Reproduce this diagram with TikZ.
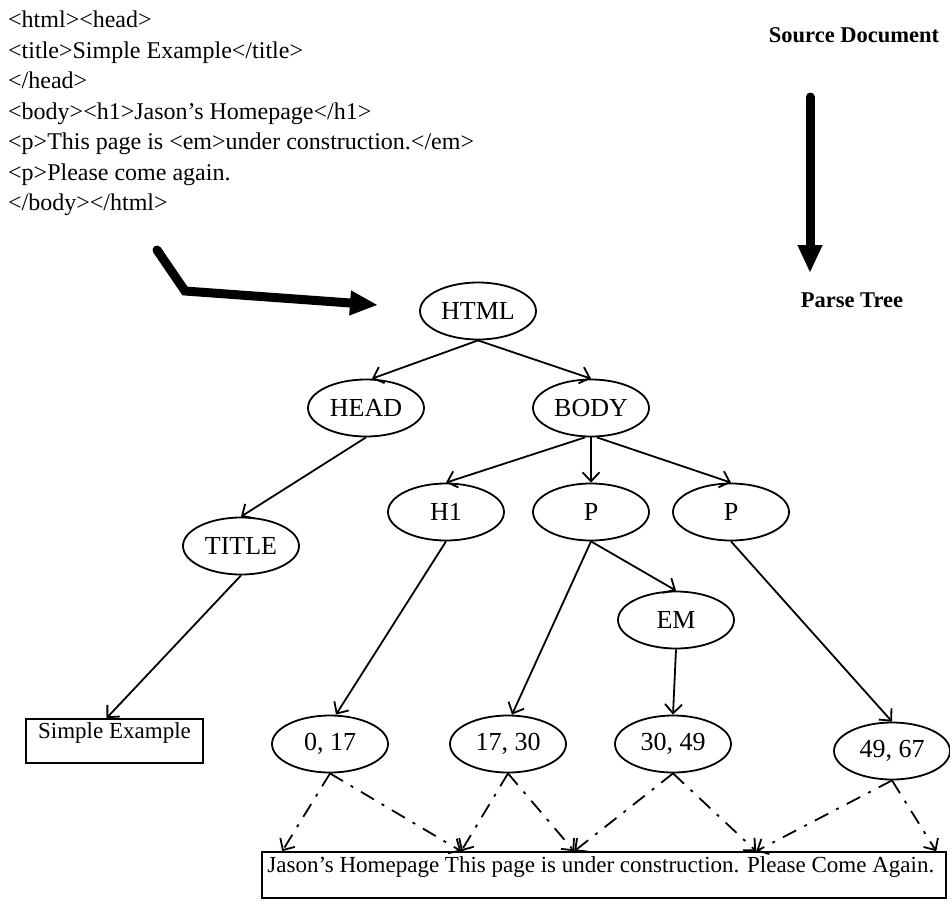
\documentclass[tikz,border=0pt]{standalone}
\usepackage{fontspec}
\setmainfont{Liberation Serif}
\usetikzlibrary{arrows.meta,shapes.geometric,calc}
\begin{document}
\begin{tikzpicture}[x=1pt,y=-1pt,
  nd/.style={ellipse,draw,line width=1.8pt,minimum width=116pt,minimum height=57pt,inner sep=0pt,font=\fontsize{26}{30}\selectfont},
  tarr/.style={line width=1.8pt,-{Straight Barb[length=9pt,width=17pt,line width=1.8pt]}},
  darr/.style={tarr,dash pattern=on 15pt off 9pt on 3pt off 9pt},
  bigarr/.style={line width=9pt,line cap=round,line join=miter,-{Triangle[length=28pt,width=23pt]}},
  ttl/.style={inner sep=0pt,font=\fontsize{22.5}{26}\selectfont\bfseries},
  boxed/.style={draw,line width=1.6pt,inner sep=0pt}]
\useasboundingbox (0,0) rectangle (950,900);

% source code
\node[anchor=north west,inner sep=0pt,align=left,font=\fontsize{24}{30.5}\selectfont] (code) at (8,11)
{<html><head>\\
<title>Simple Example</title>\\
</head>\\
<body><h1>Jason’s Homepage</h1>\\
<p>This page is <em>under construction.</em>\\
<p>Please come again.\\
</body></html>};

% titles
\node[ttl] (src) at (854,35) {Source Document};
\node[ttl] (pt) at (852,300) {Parse Tree};

% big arrows
\coordinate (va) at (810,97);
\coordinate (vb) at (810,273);
\draw[bigarr] (va) -- (vb);
\coordinate (ba) at (157,250);
\coordinate (bb) at (185,291);
\coordinate (bc) at (378,305);
\draw[bigarr] (ba) -- (bb) -- (bc);

% tree nodes
\node[nd] (html) at (478,311) {HTML};
\node[nd] (head) at (366,408) {HEAD};
\node[nd] (body) at (591,408) {BODY};
\node[nd] (title) at (241,546) {TITLE};
\node[nd] (h1) at (446,512) {H1};
\node[nd] (p1) at (591,512) {P};
\node[nd] (p2) at (731,512) {P};
\node[nd] (em) at (676,620) {EM};
\node[nd] (l0) at (330,744) {0, 17};
\node[nd] (l1) at (508,744) {17, 30};
\node[nd] (l2) at (673,744) {30, 49};
\node[nd] (l3) at (892,751) {49, 67};

% leaf boxes
\node[boxed,minimum width=177pt,minimum height=44pt] (se) at (114.5,741) {};
\node[anchor=north,inner sep=0pt,font=\fontsize{23}{26}\selectfont] (setext) at ($(se.north)+(0,4)$) {Simple Example};
\node[boxed,minimum width=684pt,minimum height=46pt] (doc) at (604,875) {};
\node[anchor=north west,inner sep=0pt,font=\fontsize{23}{26}\selectfont] (doctext) at ($(doc.north west)+(6,5)$) {Jason’s Homepage This page is under construction. Please Come Again.};

% tree edges
\draw[tarr] (html.south) -- ([xshift=6pt]head.north);
\draw[tarr] (html.south) -- (body.north);
\draw[tarr] (head.south) -- (title.north);
\draw[tarr] ([xshift=-6pt]body.south) -- (h1.north);
\draw[tarr] (body.south) -- (p1.north);
\draw[tarr] ([xshift=6pt]body.south) -- (p2.north);
\draw[tarr] (h1.south) -- ([xshift=6pt]l0.north);
\draw[tarr] (p1.south) -- ([xshift=4pt]l1.north);
\draw[tarr] (p1.south) -- (em.north);
\draw[tarr] (em.south) -- (l2.north);
\draw[tarr] (p2.south) -- (l3.north);
\draw[tarr] (title.south) -- ([xshift=-8pt]se.north);

% dashed connectors to text
\coordinate (t1) at ($(doc.north west)+(21,0)$);
\coordinate (t2) at ($(doc.north west)+(200,0)$);
\coordinate (t3) at ($(doc.north west)+(313,0)$);
\coordinate (t4) at ($(doc.north west)+(495,0)$);
\coordinate (t5) at ($(doc.north west)+(675,0)$);
\draw[darr] (l0.south) -- (t1);
\draw[darr] (l0.south) -- (t2);
\draw[darr] (l1.south) -- (t2);
\draw[darr] (l1.south) -- (t3);
\draw[darr] (l2.south) -- (t3);
\draw[darr] (l2.south) -- (t4);
\draw[darr] (l3.south) -- (t4);
\draw[darr] (l3.south) -- (t5);
\end{tikzpicture}
\end{document}
